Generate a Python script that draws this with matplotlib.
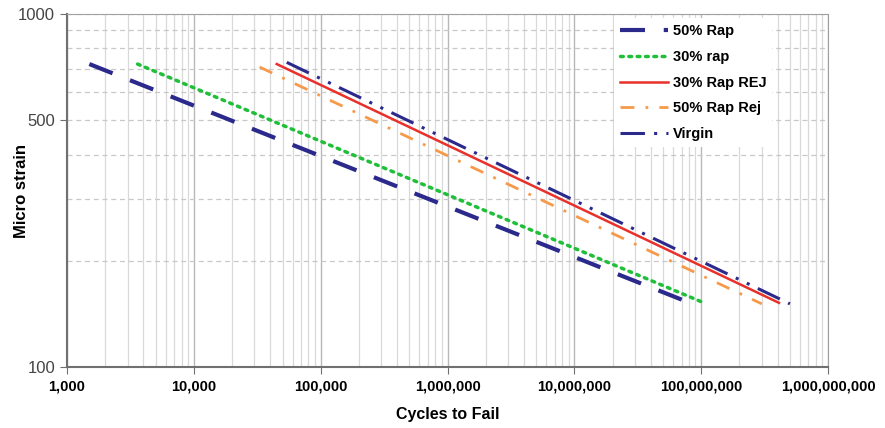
import numpy as np
import matplotlib
matplotlib.use("Agg")
import matplotlib.pyplot as plt
from matplotlib.ticker import FixedLocator, FuncFormatter, NullFormatter

matplotlib.rcParams.update({'font.family': 'Liberation Sans'})

# series end points (cycles, micro strain)
series_names = ['50% Rap', '30% rap', '30% Rap REJ', '50% Rap Rej', 'Virgin']
rap50_x = [1500, 8.9e7]
rap50_y = [722, 150]
rap30_x = [3600, 1.05e8]
rap30_y = [722, 152]
rej30_x = [45000, 4.1e8]
rej30_y = [722, 152]
rej50_x = [33000, 3.0e8]
rej50_y = [708, 151]
virgin_x = [54000, 5.0e8]
virgin_y = [730, 151]

x_ticks = [1e3, 1e4, 1e5, 1e6, 1e7, 1e8, 1e9]
y_ticks = [100, 500, 1000]

fig = plt.figure(figsize=(8.85, 4.28), dpi=100)
ax = fig.add_axes([0.0757, 0.1425, 0.86, 0.8245])

navy = '#2b2a8c'
ax.plot(rap50_x, rap50_y, color=navy, lw=3, dashes=(6, 4.5), label=series_names[0])
ax.plot(rap30_x, rap30_y, color='#1fbf3a', lw=2.5, linestyle=(0, (0.8, 1.6)),
        dash_capstyle='round', label=series_names[1])
ax.plot(rej30_x, rej30_y, color='#e8312a', lw=1.8, label=series_names[2])
ax.plot(rej50_x, rej50_y, color='#f59a4a', lw=2, dashes=(5, 4, 1, 4), label=series_names[3])
ax.plot(virgin_x, virgin_y, color=navy, lw=2.2, dashes=(8, 3, 1, 3, 1, 3), label=series_names[4])

ax.set_xscale('log')
ax.set_yscale('log')
ax.set_xlim(1e3, 1e9)
ax.set_ylim(100, 1000)

ax.xaxis.set_major_locator(FixedLocator(x_ticks))
ax.xaxis.set_major_formatter(FuncFormatter(lambda v, p: '{:,.0f}'.format(v)))
ax.xaxis.set_minor_formatter(NullFormatter())
ax.yaxis.set_major_locator(FixedLocator(y_ticks))
ax.yaxis.set_major_formatter(FuncFormatter(lambda v, p: '%d' % v))
ax.yaxis.set_minor_locator(FixedLocator([200, 300, 400, 600, 700, 800, 900]))
ax.yaxis.set_minor_formatter(NullFormatter())

ax.grid(True, which='both', axis='x', color='#d9d9d9', lw=0.9)
ax.grid(True, which='major', axis='x', color='#b8b8b8', lw=1.0)
ax.grid(True, which='both', axis='y', color='#c8c8c8', lw=0.9, dashes=(4, 3))
ax.set_axisbelow(True)

for sp in ax.spines.values():
    sp.set_color('#a0a0a0')
for sp in ['left', 'bottom']:
    ax.spines[sp].set_color('#707070')
    ax.spines[sp].set_linewidth(1.5)

ax.tick_params(axis='x', which='major', labelsize=10.5, length=5, color='#707070', pad=4)
ax.tick_params(axis='y', which='major', labelsize=12, length=5, color='#707070', labelcolor='#444444')
ax.tick_params(which='minor', length=0)
for lab in ax.get_xticklabels():
    lab.set_fontweight('bold')

ax.set_xlabel('Cycles to Fail', fontsize=11.5, fontweight='bold', labelpad=10)
ax.set_ylabel('Micro strain', fontsize=12, fontweight='bold')
ax.yaxis.set_label_coords(-0.05, 0.5)

leg = ax.legend(loc='upper right', bbox_to_anchor=(0.932, 1.0), frameon=True, fancybox=False,
                prop={'weight': 'bold', 'size': 10.5}, handlelength=3.3, labelspacing=0.8,
                handletextpad=0.3, borderaxespad=0.3)
leg.get_frame().set_edgecolor('none')
leg.get_frame().set_facecolor('white')
leg.get_frame().set_alpha(1)

fig.savefig('out.png', dpi=100)
